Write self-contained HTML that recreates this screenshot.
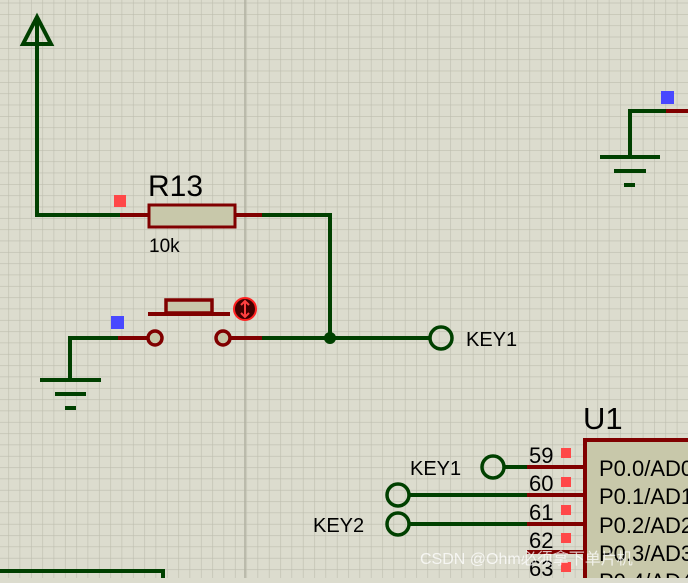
<!DOCTYPE html>
<html><head><style>
body{margin:0;width:688px;height:578px;overflow:hidden;background:#dcdcce;}
</style></head><body>
<svg width="688" height="578" xmlns="http://www.w3.org/2000/svg" font-family="Liberation Sans, sans-serif">
<defs>
<pattern id="g" x="8.3" y="2.7" width="11.33" height="11.33" patternUnits="userSpaceOnUse">
<path d="M0 0V11.33M0 0H11.33" stroke="#bdbdae" stroke-width="1.2" fill="none"/>
</pattern>
</defs>
<rect width="688" height="578" fill="#dcdcce"/>
<rect width="688" height="578" fill="url(#g)"/>
<line x1="245" y1="0" x2="245" y2="578" stroke="#b0b0a0" stroke-width="1.5"/>
<g fill="none" stroke="#004000" stroke-width="4">
<path d="M37 17L23 44H51Z" stroke-width="4"/>
<path d="M37 20V215H120"/>
<path d="M262 215H330V338"/>
<path d="M118 338H70V380"/>
<path d="M40 380H101M55 394H86M65 408H76"/>
<path d="M262 338H430"/>
<circle cx="441" cy="338" r="11" stroke-width="3.5"/>
<path d="M666 111H630V157M600 157H660M614 171H646M624 185H635"/>
<circle cx="493" cy="467" r="11" stroke-width="3.5"/>
<path d="M504 467H527M409 495H527M409 524H527"/>
<circle cx="398" cy="495" r="11" stroke-width="3.5"/>
<circle cx="398" cy="524" r="11" stroke-width="3.5"/>
<path d="M0 571H163V578"/>
</g>
<circle cx="330" cy="338" r="6" fill="#004000"/>
<g stroke="#800000" stroke-width="4" fill="none">
<path d="M120 215H148M235 215H262"/>
<rect x="149" y="205" width="86" height="22" fill="#c8c8aa" stroke-width="3"/>
<path d="M118 338H148M230 338H262"/>
<circle cx="155" cy="338" r="7" fill="#c8c8aa" stroke-width="3.5"/>
<circle cx="223" cy="338" r="7" fill="#c8c8aa" stroke-width="3.5"/>
<path d="M148 314H230"/>
<rect x="166" y="300" width="46" height="13" fill="#c8c8aa" stroke-width="3.5"/>
<path d="M666 111H688"/>
<path d="M527 467H585M527 495H585M527 524H585M527 552H585"/>
<rect x="585" y="440" width="110" height="150" fill="#c8c8aa"/>
</g>
<circle cx="245" cy="309" r="11" fill="#400000" stroke="#ff2020" stroke-width="2"/>
<path d="M245 302V316M241 305L245 301L249 305M241 313L245 317L249 313" stroke="#ff4040" stroke-width="2" fill="none"/>
<rect x="114" y="195" width="12" height="12" fill="#ff4848"/>
<rect x="111" y="316" width="13" height="13" fill="#4848ff"/>
<rect x="661" y="91" width="13" height="13" fill="#4848ff"/>
<g fill="#ff4848">
<rect x="561" y="448" width="10" height="10"/><rect x="561" y="477" width="10" height="10"/>
<rect x="561" y="505" width="10" height="10"/><rect x="561" y="533" width="10" height="10"/>
<rect x="561" y="562" width="10" height="10"/>
</g>
<g fill="#000">
<text x="148" y="196" font-size="30">R13</text>
<text x="149" y="252" font-size="19">10k</text>
<text x="466" y="346" font-size="20">KEY1</text>
<text x="583" y="429" font-size="31">U1</text>
<text x="410" y="475" font-size="20">KEY1</text>
<text x="313" y="532" font-size="20">KEY2</text>
<text x="529" y="463" font-size="22">59</text>
<text x="529" y="491" font-size="22">60</text>
<text x="529" y="520" font-size="22">61</text>
<text x="529" y="548" font-size="22">62</text>
<text x="529" y="576" font-size="22">63</text>
<text x="599" y="476" font-size="22">P0.0/AD0</text>
<text x="599" y="504" font-size="22">P0.1/AD1</text>
<text x="599" y="533" font-size="22">P0.2/AD2</text>
<text x="599" y="561" font-size="22">P0.3/AD3</text>
<text x="599" y="589" font-size="22">P0.4/AD4</text>
</g>
<text x="420" y="564" font-size="16" fill="#ffffff" fill-opacity="0.75" font-family="Liberation Sans, Noto Sans CJK SC, sans-serif">CSDN @Ohm必须拿下单片机</text>
</svg>
</body></html>
